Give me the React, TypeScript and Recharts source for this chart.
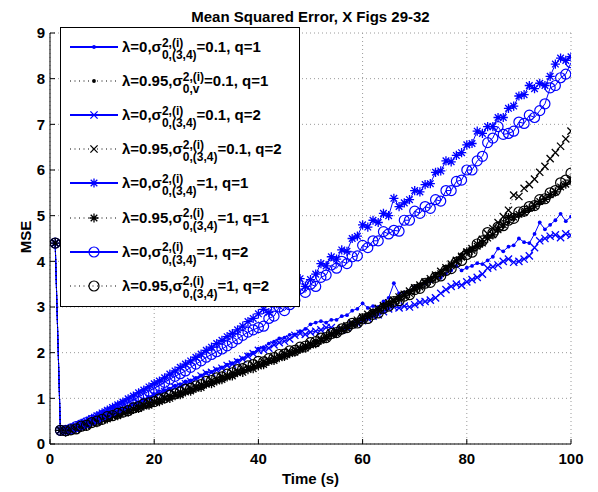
import React from 'react';
import { LineChart, Line, XAxis, YAxis, CartesianGrid } from 'recharts';

// time samples (s)
const times = [
  1, 2, 3, 4, 5, 6, 7, 8, 9, 10,
  11, 12, 13, 14, 15, 16, 17, 18, 19, 20,
  21, 22, 23, 24, 25, 26, 27, 28, 29, 30,
  31, 32, 33, 34, 35, 36, 37, 38, 39, 40,
  41, 42, 43, 44, 45, 46, 47, 48, 49, 50,
  51, 52, 53, 54, 55, 56, 57, 58, 59, 60,
  61, 62, 63, 64, 65, 66, 67, 68, 69, 70,
  71, 72, 73, 74, 75, 76, 77, 78, 79, 80,
  81, 82, 83, 84, 85, 86, 87, 88, 89, 90,
  91, 92, 93, 94, 95, 96, 97, 98, 99, 100,
];

// lambda=0, sigma=0.1, q=1
const blueDot = [
  4.4, 0.3, 0.29, 0.32, 0.35, 0.4, 0.43, 0.48, 0.52, 0.58,
  0.61, 0.67, 0.7, 0.77, 0.8, 0.87, 0.91, 0.98, 1.02, 1.09,
  1.12, 1.18, 1.21, 1.28, 1.31, 1.37, 1.39, 1.45, 1.5, 1.56,
  1.58, 1.64, 1.68, 1.74, 1.77, 1.83, 1.88, 1.96, 2.0, 2.09,
  2.12, 2.2, 2.24, 2.31, 2.33, 2.39, 2.4, 2.47, 2.52, 2.62,
  2.66, 2.69, 2.66, 2.72, 2.72, 2.8, 2.82, 2.92, 2.96, 3.08,
  2.98, 3.02, 3.0, 3.12, 3.2, 3.52, 3.3, 3.32, 3.36, 3.44,
  3.45, 3.52, 3.56, 3.67, 3.64, 3.73, 3.8, 3.9, 3.8, 3.86,
  3.9, 3.96, 3.94, 4.02, 4.1, 4.28, 4.22, 4.32, 4.35, 4.5,
  4.42, 4.4, 4.6, 4.85, 4.7, 4.8, 4.9, 5.04, 4.88, 4.98,
];
// lambda=0.95, sigma=0.1, q=1
const blackDot = [
  4.4, 0.3, 0.28, 0.3, 0.33, 0.37, 0.41, 0.45, 0.49, 0.53,
  0.57, 0.61, 0.64, 0.68, 0.72, 0.76, 0.8, 0.84, 0.88, 0.92,
  0.96, 1.0, 1.03, 1.07, 1.11, 1.15, 1.19, 1.23, 1.28, 1.32,
  1.36, 1.4, 1.47, 1.48, 1.53, 1.57, 1.61, 1.65, 1.7, 1.74,
  1.78, 1.82, 1.86, 1.9, 1.95, 1.99, 2.0, 2.08, 2.13, 2.18,
  2.23, 2.28, 2.33, 2.39, 2.44, 2.5, 2.56, 2.66, 2.68, 2.75,
  2.81, 2.88, 2.94, 3.0, 3.07, 3.13, 3.24, 3.26, 3.33, 3.4,
  3.47, 3.55, 3.61, 3.68, 3.76, 3.85, 3.93, 4.02, 4.16, 4.2,
  4.27, 4.35, 4.42, 4.5, 4.59, 4.74, 4.76, 4.85, 4.92, 5.0,
  5.1, 5.12, 5.2, 5.28, 5.36, 5.45, 5.5, 5.6, 5.68, 5.75,
];
// lambda=0, sigma=0.1, q=2
const blueX = [
  4.4, 0.3, 0.28, 0.31, 0.34, 0.39, 0.43, 0.48, 0.52, 0.57,
  0.61, 0.66, 0.71, 0.76, 0.8, 0.86, 0.9, 0.95, 1.0, 1.06,
  1.1, 1.15, 1.2, 1.24, 1.27, 1.32, 1.37, 1.42, 1.49, 1.55,
  1.57, 1.62, 1.66, 1.72, 1.75, 1.8, 1.86, 1.92, 1.98, 2.05,
  2.06, 2.1, 2.17, 2.22, 2.25, 2.3, 2.38, 2.42, 2.4, 2.45,
  2.47, 2.5, 2.55, 2.55, 2.48, 2.5, 2.56, 2.62, 2.64, 2.7,
  2.75, 2.8, 2.83, 2.9, 2.96, 3.0, 2.98, 3.02, 3.0, 3.05,
  3.1, 3.12, 3.15, 3.2, 3.3, 3.38, 3.45, 3.5, 3.48, 3.55,
  3.6, 3.65, 3.72, 3.85, 3.88, 3.92, 4.0, 4.05, 3.98, 4.0,
  4.05, 4.12, 4.3, 4.45, 4.5, 4.55, 4.58, 4.52, 4.6, 4.57,
];
// lambda=0.95, sigma=0.1, q=2
const blackX = [
  4.4, 0.3, 0.29, 0.31, 0.34, 0.38, 0.42, 0.46, 0.5, 0.54,
  0.58, 0.62, 0.65, 0.69, 0.73, 0.77, 0.81, 0.85, 0.89, 0.93,
  0.97, 1.01, 1.05, 1.09, 1.13, 1.17, 1.21, 1.25, 1.29, 1.34,
  1.38, 1.42, 1.46, 1.5, 1.55, 1.59, 1.63, 1.67, 1.72, 1.76,
  1.8, 1.84, 1.88, 1.93, 1.97, 2.02, 2.06, 2.1, 2.15, 2.2,
  2.25, 2.3, 2.36, 2.42, 2.47, 2.53, 2.59, 2.65, 2.71, 2.78,
  2.84, 2.9, 2.97, 3.03, 3.09, 3.15, 3.22, 3.28, 3.35, 3.42,
  3.48, 3.55, 3.62, 3.7, 3.78, 3.86, 3.94, 4.02, 4.11, 4.2,
  4.28, 4.38, 4.48, 4.6, 4.72, 4.85, 4.98, 5.12, 5.45, 5.42,
  5.6, 5.68, 5.8, 5.95, 6.08, 6.25, 6.38, 6.52, 6.68, 6.85,
];
// lambda=0, sigma=1, q=1
const blueStar = [
  4.4, 0.3, 0.3, 0.34, 0.4, 0.45, 0.5, 0.56, 0.62, 0.68,
  0.74, 0.8, 0.86, 0.92, 0.99, 1.05, 1.12, 1.18, 1.25, 1.32,
  1.38, 1.45, 1.53, 1.6, 1.68, 1.75, 1.82, 1.9, 1.97, 2.05,
  2.12, 2.2, 2.27, 2.35, 2.42, 2.5, 2.58, 2.68, 2.75, 2.85,
  2.95, 2.88, 3.05, 3.08, 3.22, 3.2, 3.45, 3.62, 3.45, 3.6,
  3.72, 3.95, 3.9, 4.1, 4.05, 4.25, 4.22, 4.5, 4.55, 4.8,
  4.75, 4.9, 4.85, 5.05, 5.0, 5.38, 5.2, 5.28, 5.35, 5.55,
  5.52, 5.68, 5.7, 5.95, 5.98, 6.2, 6.18, 6.32, 6.38, 6.55,
  6.58, 6.85, 6.8, 6.95, 6.95, 7.15, 7.15, 7.35, 7.4, 7.62,
  7.65, 7.85, 7.78, 7.9, 7.85, 8.05, 8.32, 8.45, 8.4, 8.48,
];
// lambda=0.95, sigma=1, q=1
const blackStar = [
  4.4, 0.3, 0.26, 0.3, 0.32, 0.37, 0.39, 0.45, 0.47, 0.53,
  0.55, 0.61, 0.62, 0.68, 0.7, 0.76, 0.78, 0.83, 0.85, 0.91,
  0.93, 0.99, 1.0, 1.06, 1.08, 1.14, 1.16, 1.22, 1.24, 1.31,
  1.32, 1.38, 1.41, 1.47, 1.49, 1.56, 1.57, 1.63, 1.65, 1.71,
  1.74, 1.81, 1.83, 1.89, 1.92, 1.98, 2.01, 2.07, 2.1, 2.17,
  2.2, 2.27, 2.31, 2.39, 2.42, 2.49, 2.53, 2.61, 2.66, 2.75,
  2.79, 2.87, 2.92, 3.01, 3.05, 3.13, 3.17, 3.26, 3.3, 3.39,
  3.44, 3.53, 3.58, 3.67, 3.73, 3.83, 3.9, 4.01, 4.09, 4.21,
  4.24, 4.33, 4.4, 4.51, 4.58, 4.69, 4.8, 4.96, 4.97, 5.03,
  5.07, 5.16, 5.21, 5.31, 5.36, 5.46, 5.52, 5.63, 5.69, 5.78,
];
// lambda=0, sigma=1, q=2
const blueCircle = [
  4.4, 0.3, 0.3, 0.33, 0.38, 0.42, 0.47, 0.52, 0.57, 0.62,
  0.68, 0.73, 0.79, 0.85, 0.91, 0.97, 1.03, 1.1, 1.16, 1.22,
  1.28, 1.35, 1.42, 1.48, 1.54, 1.6, 1.68, 1.75, 1.82, 1.9,
  1.96, 2.02, 2.08, 2.15, 2.22, 2.3, 2.38, 2.45, 2.5, 2.55,
  2.58, 2.75, 2.8, 3.0, 2.92, 3.05, 3.15, 3.4, 3.32, 3.5,
  3.45, 3.65, 3.7, 3.92, 3.85, 4.0, 3.95, 4.1, 4.12, 4.35,
  4.3, 4.45, 4.45, 4.65, 4.6, 4.68, 4.66, 4.9, 4.9, 5.1,
  5.05, 5.2, 5.16, 5.35, 5.32, 5.55, 5.55, 5.75, 5.78, 6.0,
  6.0, 6.2, 6.3, 6.6, 6.7, 6.95, 6.78, 6.8, 6.85, 7.05,
  7.02, 7.2, 7.15, 7.3, 7.45, 7.8, 7.85, 8.02, 8.1, 8.35,
];
// lambda=0.95, sigma=1, q=2
const blackCircle = [
  4.4, 0.3, 0.29, 0.31, 0.33, 0.39, 0.41, 0.47, 0.5, 0.54,
  0.6, 0.62, 0.67, 0.7, 0.73, 0.79, 0.82, 0.88, 0.9, 0.93,
  0.99, 1.01, 1.07, 1.1, 1.14, 1.2, 1.22, 1.27, 1.3, 1.37,
  1.39, 1.45, 1.47, 1.53, 1.56, 1.63, 1.65, 1.71, 1.74, 1.81,
  1.8, 1.87, 1.89, 1.96, 1.97, 2.04, 2.05, 2.12, 2.14, 2.22,
  2.24, 2.32, 2.33, 2.42, 2.44, 2.52, 2.55, 2.64, 2.65, 2.74,
  2.75, 2.84, 2.87, 2.97, 3.02, 3.12, 3.14, 3.24, 3.27, 3.38,
  3.41, 3.52, 3.54, 3.65, 3.68, 3.8, 3.84, 3.98, 4.02, 4.15,
  4.2, 4.38, 4.45, 4.63, 4.62, 4.75, 4.78, 4.9, 4.94, 5.08,
  5.1, 5.2, 5.22, 5.35, 5.37, 5.5, 5.55, 5.72, 5.78, 5.93,
];

const xTicks = [0, 20, 40, 60, 80, 100];
const yTicks = [0, 1, 2, 3, 4, 5, 6, 7, 8, 9];

type MarkerType = 'point' | 'x' | 'star' | 'circle';

const series: {
  key: string;
  values: number[];
  color: string;
  dotted: boolean;
  marker: MarkerType;
  lam: string;
  sub: string;
  val: string;
  q: string;
}[] = [
  { key: 'blueDot', values: blueDot, color: '#0000ff', dotted: false, marker: 'point', lam: '0', sub: '0,(3,4)', val: '0.1', q: '1' },
  { key: 'blackDot', values: blackDot, color: '#000000', dotted: true, marker: 'point', lam: '0.95', sub: '0,v', val: '0.1', q: '1' },
  { key: 'blueX', values: blueX, color: '#0000ff', dotted: false, marker: 'x', lam: '0', sub: '0,(3,4)', val: '0.1', q: '2' },
  { key: 'blackX', values: blackX, color: '#000000', dotted: true, marker: 'x', lam: '0.95', sub: '0,(3,4)', val: '0.1', q: '2' },
  { key: 'blueStar', values: blueStar, color: '#0000ff', dotted: false, marker: 'star', lam: '0', sub: '0,(3,4)', val: '1', q: '1' },
  { key: 'blackStar', values: blackStar, color: '#000000', dotted: true, marker: 'star', lam: '0.95', sub: '0,(3,4)', val: '1', q: '1' },
  { key: 'blueCircle', values: blueCircle, color: '#0000ff', dotted: false, marker: 'circle', lam: '0', sub: '0,(3,4)', val: '1', q: '2' },
  { key: 'blackCircle', values: blackCircle, color: '#000000', dotted: true, marker: 'circle', lam: '0.95', sub: '0,(3,4)', val: '1', q: '2' },
];

const data = times.map((t, i) => {
  const row: Record<string, number> = { t };
  series.forEach((s) => {
    row[s.key] = s.values[i];
  });
  return row;
});

function Marker({ type, cx, cy, color }: { type: MarkerType; cx: number; cy: number; color: string }) {
  if (type === 'point') {
    return <circle cx={cx} cy={cy} r={1.9} fill={color} stroke="none" />;
  }
  if (type === 'x') {
    const a = 3.6;
    return (
      <path
        d={`M${cx - a},${cy - a}L${cx + a},${cy + a}M${cx - a},${cy + a}L${cx + a},${cy - a}`}
        stroke={color}
        strokeWidth={1.3}
        fill="none"
      />
    );
  }
  if (type === 'star') {
    const r = 4.6;
    const d = 3.3;
    return (
      <path
        d={`M${cx - r},${cy}L${cx + r},${cy}M${cx},${cy - r}L${cx},${cy + r}M${cx - d},${cy - d}L${cx + d},${cy + d}M${cx - d},${cy + d}L${cx + d},${cy - d}`}
        stroke={color}
        strokeWidth={1.3}
        fill="none"
      />
    );
  }
  return <circle cx={cx} cy={cy} r={5} fill="none" stroke={color} strokeWidth={1.2} />;
}

const font = '"Liberation Sans", Arial, Helvetica, sans-serif';

function LegendBox() {
  return (
    <div
      style={{
        position: 'absolute',
        left: 52,
        top: 19,
        width: 240,
        height: 280,
        border: '1px solid #000',
        background: '#fff',
        boxSizing: 'border-box',
        fontFamily: font,
        fontWeight: 'bold',
        color: '#000',
      }}
    >
      {series.map((s, i) => {
        const cy = 19 + i * 34.1;
        return (
          <div
            key={s.key}
            style={{ position: 'absolute', left: 0, top: cy - 17, height: 34, display: 'flex', alignItems: 'center', whiteSpace: 'nowrap' }}
          >
            <svg width={61} height={34} style={{ display: 'block' }}>
              <line
                x1={9}
                x2={57}
                y1={17}
                y2={17}
                stroke={s.color}
                strokeWidth={s.dotted ? 1 : 1.8}
                strokeDasharray={s.dotted ? '1 3.5' : undefined}
              />
              <Marker type={s.marker} cx={33} cy={17} color={s.color} />
            </svg>
            <span style={{ fontSize: 15, lineHeight: '16px' }}>{`λ=${s.lam},σ`}</span>
            <span style={{ display: 'inline-flex', flexDirection: 'column', fontSize: 12, lineHeight: '12.5px', marginTop: 4 }}>
              <span>2,(i)</span>
              <span>{s.sub}</span>
            </span>
            <span style={{ fontSize: 15, lineHeight: '16px' }}>{`=${s.val}, q=${s.q}`}</span>
          </div>
        );
      })}
    </div>
  );
}

export default function App() {
  const axisColor = '#000';
  const tickStyle = { fill: '#000', fontSize: 15, fontFamily: font, fontWeight: 'bold' };
  return (
    <div style={{ position: 'relative', width: 590, height: 484, fontFamily: font, background: '#fff' }}>
      <LineChart width={590} height={484} data={data} margin={{ top: 25, right: 27, bottom: 18, left: 0 }}>
        <CartesianGrid stroke="#9a9a9a" strokeDasharray="1 3" />
        <XAxis
          dataKey="t"
          type="number"
          domain={[0, 100]}
          ticks={xTicks}
          allowDataOverflow
          height={30}
          tickSize={-5}
          tickMargin={14}
          axisLine={{ stroke: axisColor }}
          tickLine={{ stroke: axisColor }}
          tick={tickStyle}
        />
        <XAxis
          xAxisId="top"
          dataKey="t"
          orientation="top"
          type="number"
          domain={[0, 100]}
          ticks={xTicks}
          allowDataOverflow
          height={0}
          tickSize={-5}
          tick={false}
          axisLine={{ stroke: axisColor }}
          tickLine={{ stroke: axisColor }}
        />
        <YAxis
          type="number"
          domain={[0, 9]}
          ticks={yTicks}
          allowDataOverflow
          width={42}
          tickSize={-5}
          tickMargin={10}
          axisLine={{ stroke: axisColor }}
          tickLine={{ stroke: axisColor }}
          tick={tickStyle}
        />
        <YAxis
          yAxisId="right"
          orientation="right"
          type="number"
          domain={[0, 9]}
          ticks={yTicks}
          allowDataOverflow
          width={0}
          tickSize={-5}
          tick={false}
          axisLine={{ stroke: axisColor }}
          tickLine={{ stroke: axisColor }}
        />
        {series.map((s) => (
          <Line
            key={s.key}
            type="linear"
            dataKey={s.key}
            stroke={s.color}
            strokeWidth={1}
            strokeDasharray={s.dotted ? '1 3' : undefined}
            dot={(p: any) => <Marker key={`${s.key}-${p.index}`} type={s.marker} cx={p.cx} cy={p.cy} color={s.color} />}
            activeDot={false}
            isAnimationActive={false}
          />
        ))}
      </LineChart>
      <div
        style={{
          position: 'absolute',
          left: 42,
          width: 521,
          top: 1,
          textAlign: 'center',
          fontSize: 15,
          lineHeight: '15px',
          fontWeight: 'bold',
          color: '#000',
        }}
      >
        Mean Squared Error, X Figs 29-32
      </div>
      <div
        style={{
          position: 'absolute',
          left: 42,
          width: 521,
          top: 463,
          textAlign: 'center',
          fontSize: 15,
          lineHeight: '15px',
          fontWeight: 'bold',
          color: '#000',
        }}
      >
        Time (s)
      </div>
      <div
        style={{
          position: 'absolute',
          left: 17,
          top: 229,
          transform: 'translate(-50%, -50%) rotate(-90deg)',
          fontSize: 15,
          lineHeight: '15px',
          fontWeight: 'bold',
          color: '#000',
          whiteSpace: 'nowrap',
        }}
      >
        MSE
      </div>
      <LegendBox />
    </div>
  );
}
